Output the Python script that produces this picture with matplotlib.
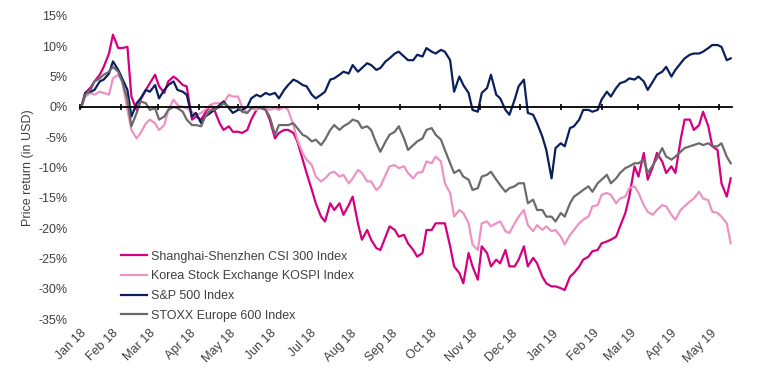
import numpy as np
import pandas as pd
import matplotlib
matplotlib.use("Agg")
import matplotlib.pyplot as plt
import matplotlib.dates as mdates

plt.rcParams["font.family"] = ["Liberation Sans", "DejaVu Sans"]

# twice-weekly observations (Tuesday / Friday closes), Jan 2018 - 10 May 2019
dates = pd.date_range("2018-01-02", "2019-05-10", freq="W-TUE").union(
    pd.date_range("2018-01-02", "2019-05-10", freq="W-FRI"))

csi300 = [0, 2.3, 3.2, 4.2, 5.3, 6.6, 8.8, 11.9, 9.7, 9.7,
          9.9, 1.7, -0.5, 1.2, 2.8, 3.9, 5.3, 3.4, 2.3, 4.2,
          5.0, 4.5, 3.6, 3.4, -2.1, -1.6, -2.1, -1.0, 0.3, -0.5,
          -2.7, -3.8, -3.2, -4.1, -4.1, -4.3, -3.8, -2.1, -0.5, 0.0,
          -0.5, -2.1, -5.2, -4.3, -3.8, -3.8, -4.3, -5.7, -8.7, -10.9,
          -13.7, -15.9, -18.1, -18.9, -15.9, -17.0, -15.9, -17.8, -16.2, -14.8,
          -19.2, -21.9, -20.3, -21.9, -23.3, -23.6, -21.4, -19.7, -20.3, -21.4,
          -21.1, -22.5, -23.6, -24.7, -24.1, -20.3, -20.3, -19.2, -19.2, -19.2,
          -23.0, -26.3, -27.4, -29.1, -24.1, -26.3, -28.5, -23.0, -24.1, -26.3,
          -25.2, -25.8, -23.6, -26.3, -26.3, -25.2, -23.0, -26.3, -24.9, -25.8,
          -28.0, -29.1, -29.6, -29.6, -29.9, -30.2, -28.0, -27.4, -26.3, -25.2,
          -24.7, -23.8, -23.6, -22.5, -22.2, -21.9, -21.4, -19.7, -17.5, -14.8,
          -9.8, -11.5, -7.6, -12.0, -9.8, -7.6, -9.0, -10.9, -9.8, -10.9,
          -5.4, -2.1, -2.1, -3.8, -3.0, -0.8, -3.2, -6.5, -7.1, -12.6,
          -14.8, -11.8]

kospi = [0, 1.7, 2.3, 2.0, 2.5, 2.3, 2.0, 4.7, 5.3, 4.2,
         -0.5, -3.8, -5.2, -4.3, -2.7, -2.1, -2.7, -3.8, -3.0, -0.5,
         1.2, 0.3, 0.0, -0.2, -0.8, -1.3, -1.0, -0.5, 0.3, 0.6,
         0.6, 0.6, 2.0, 1.7, 1.7, 0.0, -1.0, -0.2, -0.5, 0.0,
         0.0, -0.5, -0.2, -0.5, 0.0, -0.5, -3.0, -5.4, -7.6, -8.7,
         -9.6, -11.5, -12.3, -11.8, -10.9, -10.7, -11.5, -11.2, -12.6, -11.8,
         -10.4, -10.9, -12.3, -12.3, -13.7, -13.1, -11.2, -9.8, -9.6, -10.1,
         -9.8, -10.9, -11.8, -10.9, -10.7, -9.0, -9.3, -8.2, -9.0, -12.6,
         -14.2, -18.1, -17.0, -17.5, -19.2, -22.7, -23.6, -19.2, -18.9, -19.7,
         -19.2, -18.9, -20.5, -20.8, -19.2, -18.1, -17.0, -19.5, -20.5, -19.5,
         -20.3, -19.7, -20.5, -20.3, -21.4, -22.7, -21.1, -20.3, -19.2, -18.6,
         -18.1, -16.4, -16.2, -14.5, -14.2, -14.5, -15.9, -15.1, -14.8, -13.4,
         -13.1, -14.2, -16.2, -17.3, -17.8, -17.0, -16.2, -16.4, -17.8, -18.6,
         -17.0, -16.4, -15.6, -15.1, -14.0, -15.1, -15.4, -17.3, -17.5, -18.1,
         -19.2, -22.5]

sp500 = [0, 2.3, 2.5, 2.8, 4.2, 4.5, 5.5, 7.5, 6.1, 4.7,
         2.8, -1.6, 0.6, 1.4, 2.8, 2.5, 3.6, 1.4, 2.8, 3.6,
         4.2, 2.8, 2.5, 2.0, -1.6, -1.0, -2.7, -1.6, -1.0, -0.5,
         0.3, 0.9, -0.2, -1.0, -0.5, -0.5, 0.0, 1.4, 2.0, 1.7,
         2.3, 2.0, 2.3, 1.4, 2.8, 3.6, 4.5, 4.2, 3.6, 3.4,
         2.0, 1.4, 2.0, 2.5, 4.5, 4.7, 5.3, 5.8, 5.5, 6.9,
         5.8, 6.4, 7.2, 6.9, 6.1, 6.4, 7.5, 8.0, 8.8, 9.1,
         8.3, 7.7, 7.7, 8.6, 8.3, 9.7, 9.1, 8.8, 9.4, 9.1,
         7.7, 2.5, 5.0, 3.6, 2.3, -0.5, -0.8, 2.3, 3.1, 5.3,
         2.0, 1.4, -0.5, -1.3, 1.2, 3.4, 4.5, -1.0, -1.3, -2.7,
         -4.9, -7.1, -11.8, -6.8, -6.0, -6.5, -3.5, -3.2, -2.1, -0.5,
         -0.5, -0.8, -0.5, 1.2, 2.5, 1.7, 3.1, 3.9, 4.2, 4.7,
         4.5, 5.0, 4.2, 2.8, 4.2, 5.3, 5.8, 6.6, 5.0, 6.1,
         7.2, 8.0, 8.6, 8.8, 8.8, 9.1, 9.7, 10.2, 10.2, 9.9,
         7.7, 8.0]

stoxx600 = [0, 2.0, 2.8, 4.2, 4.7, 5.3, 5.8, 6.6, 5.8, 4.2,
            1.2, -3.2, -1.0, 0.9, 0.6, -0.5, -0.2, -2.1, -1.6, -0.5,
            0.0, -0.2, -0.8, -2.1, -3.0, -3.0, -3.2, -1.6, -0.5, -0.5,
            0.0, 0.6, 0.0, -0.2, 0.0, -0.8, -1.0, -0.2, 0.0, -0.2,
            -0.5, -1.6, -4.6, -3.0, -3.0, -3.0, -2.7, -3.5, -4.6, -4.9,
            -5.7, -5.4, -6.3, -5.4, -3.8, -3.0, -3.8, -3.2, -2.7, -2.1,
            -2.4, -3.5, -3.2, -3.8, -6.0, -7.4, -5.7, -4.6, -4.1, -3.2,
            -5.2, -7.1, -6.3, -5.7, -5.2, -3.8, -3.5, -4.6, -5.4, -7.1,
            -9.3, -10.9, -10.4, -11.5, -12.0, -13.7, -13.4, -11.5, -11.2, -10.7,
            -12.0, -12.9, -14.0, -13.4, -13.1, -12.6, -12.6, -15.9, -15.3, -17.0,
            -17.0, -18.1, -18.1, -18.9, -17.5, -18.1, -15.9, -14.8, -14.2, -13.7,
            -13.1, -14.0, -12.6, -12.0, -11.2, -12.6, -11.8, -10.9, -10.1, -9.8,
            -9.3, -9.3, -8.7, -10.9, -9.6, -8.5, -6.8, -8.2, -8.7, -8.2,
            -7.4, -6.8, -6.5, -6.3, -6.0, -6.3, -6.0, -6.5, -6.5, -6.0,
            -8.2, -9.3]

series = [
    ("Shanghai-Shenzhen CSI 300 Index", csi300, "#D4007F"),
    ("Korea Stock Exchange KOSPI Index", kospi, "#EB94C3"),
    ("S&P 500 Index", sp500, "#0B1F5C"),
    ("STOXX Europe 600 Index", stoxx600, "#6B6B6B"),
]

TEXT = "#404040"

fig = plt.figure(figsize=(7.57, 3.79), dpi=100)
ax = fig.add_axes([0.1057, 0.158, 0.8613, 0.800])

for label, vals, color in series:
    ax.plot(dates, vals, color=color, lw=1.6, label=label)

ax.set_ylim(-35, 15)
ax.set_xlim(pd.Timestamp("2018-01-01"), pd.Timestamp("2019-05-11"))
ax.set_yticks(np.arange(-35, 16, 5))
ax.set_yticklabels([f"{v}%" for v in range(-35, 16, 5)])
ax.tick_params(axis="y", length=0, pad=9, labelsize=9, labelcolor=TEXT)

for s in ("left", "right", "top"):
    ax.spines[s].set_visible(False)
ax.spines["bottom"].set_position(("data", 0))
ax.spines["bottom"].set_linewidth(1.3)
ax.xaxis.set_major_locator(mdates.MonthLocator())
ax.tick_params(axis="x", direction="inout", length=5, width=1.2,
               labelbottom=False)

# month labels sit below the plot, ticks stay on the zero line
sec = ax.secondary_xaxis("bottom")
sec.spines["bottom"].set_visible(False)
sec.xaxis.set_major_locator(mdates.MonthLocator())
sec.xaxis.set_major_formatter(mdates.DateFormatter("%b %y"))
sec.tick_params(length=0, pad=6, labelsize=9, labelcolor=TEXT)
for t in sec.get_xticklabels():
    t.set_rotation(45)
    t.set_ha("right")
    t.set_rotation_mode("anchor")

ax.set_ylabel("Price return (in USD)", fontsize=9, color=TEXT)
ax.yaxis.set_label_coords(-0.07, 0.5)

ax.legend(loc="upper left", bbox_to_anchor=(0.063, 0.226), frameon=False,
          fontsize=9, handlelength=2.1, handletextpad=0.3, labelspacing=0.62,
          borderaxespad=0, borderpad=0, labelcolor=TEXT)

fig.savefig("out.png", dpi=100)
